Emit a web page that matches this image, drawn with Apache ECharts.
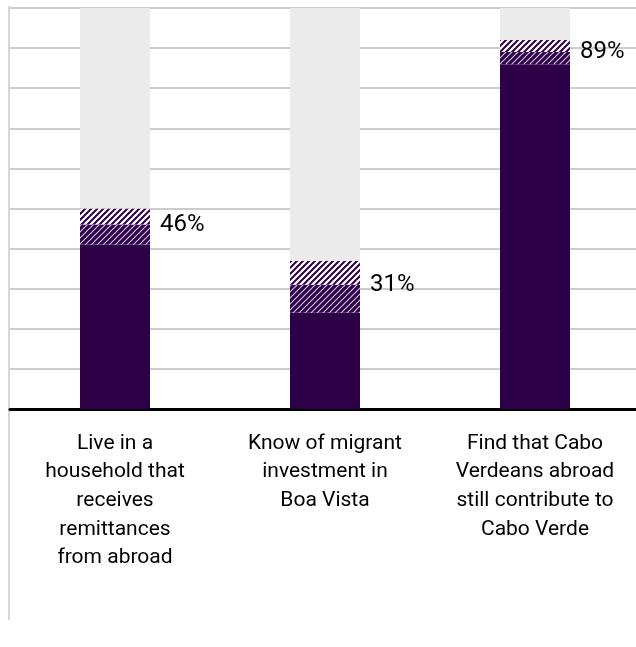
<!DOCTYPE html>
<html>
<head>
<meta charset="utf-8">
<script src="https://cdn.jsdelivr.net/npm/echarts@6/dist/echarts.min.js"></script>
<style>
  html, body { margin: 0; padding: 0; background: #fff; overflow: hidden; }
  #chart { width: 642px; height: 647px; }
</style>
</head>
<body>
<div id="chart"></div>
<script>
var categories = [
    'Live in a\nhousehold that\nreceives\nremittances\nfrom abroad',
    'Know of migrant\ninvestment in\nBoa Vista',
    'Find that Cabo\nVerdeans abroad\nstill contribute to\nCabo Verde'
];
var solidValues = [41, 24, 86];
var denseValues = [5, 7, 3];
var lightValues = [4, 6, 3];
var restValues = [50, 63, 8];
var totalLabels = ['46%', '31%', '89%'];

var purple = '#2e0047';
var font = 'Roboto';

// diagonal hatch tile
function hatch(bg, fg, lw) {
    var c = document.createElement('canvas');
    c.width = 6; c.height = 6;
    var ctx = c.getContext('2d');
    ctx.fillStyle = bg;
    ctx.fillRect(0, 0, 6, 6);
    ctx.strokeStyle = fg;
    ctx.lineWidth = lw;
    ctx.beginPath();
    ctx.moveTo(0, 6); ctx.lineTo(6, 0);
    ctx.moveTo(-1, 1); ctx.lineTo(1, -1);
    ctx.moveTo(5, 7); ctx.lineTo(7, 5);
    ctx.stroke();
    return { image: c, repeat: 'repeat' };
}

var chart = echarts.init(document.getElementById('chart'));

var option = {
    animation: false,
    grid: { left: 10, top: 8, width: 630, height: 401 },
    xAxis: {
        type: 'category',
        data: categories,
        axisTick: { show: false },
        axisLine: { lineStyle: { color: '#000', width: 3 } },
        axisLabel: {
            interval: 0,
            margin: 20,
            color: '#000',
            fontFamily: font,
            fontSize: 21,
            lineHeight: 28.7,
            align: 'center',
            verticalAlign: 'top'
        }
    },
    yAxis: {
        type: 'value',
        min: 0,
        max: 100,
        interval: 10,
        axisLabel: { show: false },
        axisLine: { show: false },
        axisTick: { show: false },
        splitLine: { lineStyle: { color: '#cccccc', width: 2 } }
    },
    graphic: [{
        type: 'line',
        shape: { x1: 9, y1: 6, x2: 9, y2: 620 },
        style: { stroke: '#c8c8c8', lineWidth: 1.5 }
    }],
    series: [
        {
            type: 'bar', stack: 'a', barWidth: 70,
            data: solidValues,
            itemStyle: { color: purple }
        },
        {
            type: 'bar', stack: 'a',
            data: denseValues,
            itemStyle: { color: hatch(purple, '#cdbfe0', 1.2) }
        },
        {
            type: 'bar', stack: 'a',
            data: lightValues,
            itemStyle: { color: hatch('#ffffff', purple, 2) },
            label: {
                show: true,
                position: ['100%', '100%'],
                offset: [10, 0],
                align: 'left',
                verticalAlign: 'middle',
                color: '#000',
                fontFamily: font,
                fontSize: 24,
                formatter: function (p) { return totalLabels[p.dataIndex]; }
            }
        },
        {
            type: 'bar', stack: 'a',
            data: restValues,
            itemStyle: { color: '#ebebeb' }
        }
    ]
};

chart.setOption(option);
</script>
</body>
</html>
